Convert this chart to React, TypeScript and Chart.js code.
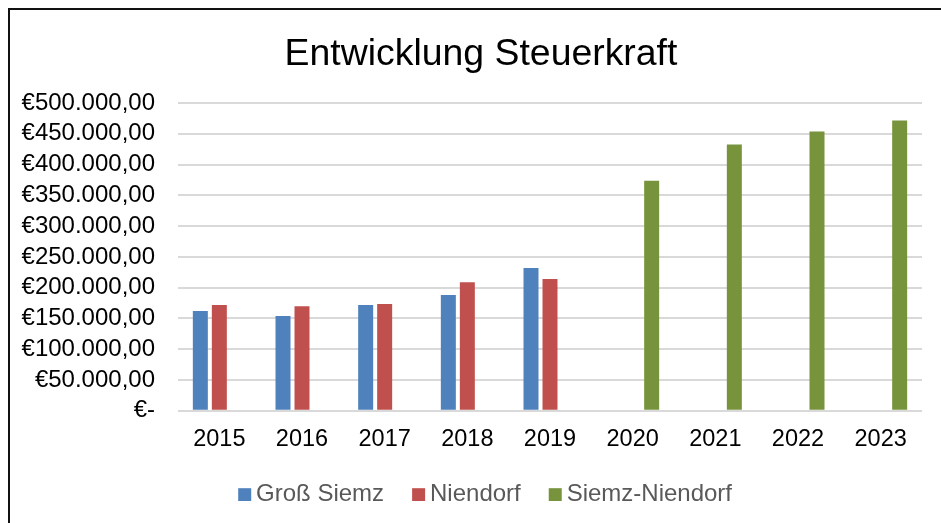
import { useEffect, useRef } from 'react';
import { Chart, registerables } from 'chart.js';

Chart.register(...registerables);

const years = ['2015', '2016', '2017', '2018', '2019', '2020', '2021', '2022', '2023'];
const grossSiemz = [162000, 154000, 172000, 188000, 232000, null, null, null, null];
const niendorf = [172000, 170000, 173500, 209000, 214000, null, null, null, null];
const siemzNiendorf = [null, null, null, null, null, 373700, 432500, 453800, 471700];
const seriesNames = ['Groß Siemz', 'Niendorf', 'Siemz-Niendorf'];
const seriesColors = ['#4F81BD', '#C0504D', '#77933C'];
const yMin = 0;
const yMax = 500000;
const yStep = 50000;
const titleText = 'Entwicklung Steuerkraft';

const FONT = '"Liberation Sans", Arial, sans-serif';

function euro(v: number): string {
  if (v === 0) return '€-';
  const s = Math.round(v).toString().replace(/\B(?=(\d{3})+(?!\d))/g, '.');
  return '€' + s + ',00';
}

const titleLegendPlugin = {
  id: 'excelTitleLegend',
  afterDraw(chart: any) {
    const ctx = chart.ctx;
    ctx.save();
    // title
    ctx.font = '37.4px ' + FONT;
    ctx.textBaseline = 'alphabetic';
    ctx.textAlign = 'center';
    ctx.fillStyle = '#000000';
    ctx.fillText(titleText, 471, 54.5);
    // legend
    ctx.font = '24px ' + FONT;
    ctx.textAlign = 'left';
    let x = 228.2;
    const baseY = 491;
    chart.data.datasets.forEach((ds: any) => {
      ctx.fillStyle = ds.backgroundColor;
      ctx.fillRect(x, baseY - 12.8, 13, 12.8);
      x += 17.9;
      ctx.fillStyle = '#595959';
      ctx.fillText(ds.label, x, baseY);
      x += ctx.measureText(ds.label).width + 28;
    });
    ctx.restore();
  },
};

export default function App() {
  const ref = useRef<HTMLCanvasElement | null>(null);

  useEffect(() => {
    document.body.style.overflow = 'hidden';
    const canvas = ref.current;
    if (!canvas) return;
    const seriesData = [grossSiemz, niendorf, siemzNiendorf];
    const chart = new Chart(canvas, {
      type: 'bar',
      data: {
        labels: years,
        datasets: seriesNames.map((name, i) => ({
          label: name,
          data: seriesData[i],
          backgroundColor: seriesColors[i],
          borderWidth: 0,
          categoryPercentage: 0.6895,
          barPercentage: 0.789,
        })),
      },
      options: {
        responsive: false,
        animation: false,
        devicePixelRatio: 1,
        layout: { padding: { top: 93, left: 0, right: 19, bottom: 54 } },
        plugins: {
          legend: { display: false },
          tooltip: { enabled: false },
          title: { display: false },
        },
        scales: {
          x: {
            grid: { display: false, drawTicks: false },
            border: { display: false },
            ticks: {
              color: '#000000',
              font: { family: FONT, size: 23.5 },
              padding: 15,
              maxRotation: 0,
              autoSkip: false,
            },
          },
          y: {
            min: yMin,
            max: yMax,
            afterFit: (scale: any) => {
              scale.width = 168;
            },
            grid: { color: '#d9d9d9', lineWidth: 2, drawTicks: false },
            border: { display: false },
            ticks: {
              stepSize: yStep,
              autoSkip: false,
              color: '#000000',
              font: { family: FONT, size: 24 },
              padding: 23,
              callback: (v: any) => euro(Number(v)),
            },
          },
        },
      },
      plugins: [titleLegendPlugin],
    } as any);
    return () => chart.destroy();
  }, []);

  return (
    <div
      style={{
        position: 'fixed',
        left: 8,
        top: 8,
        width: 933,
        height: 515,
        boxSizing: 'border-box',
        borderLeft: '2px solid #111',
        borderTop: '2px solid #111',
        background: '#fff',
        overflow: 'hidden',
      }}
    >
      <canvas ref={ref} width={931} height={513} style={{ display: 'block', width: 931, height: 513 }} />
    </div>
  );
}
